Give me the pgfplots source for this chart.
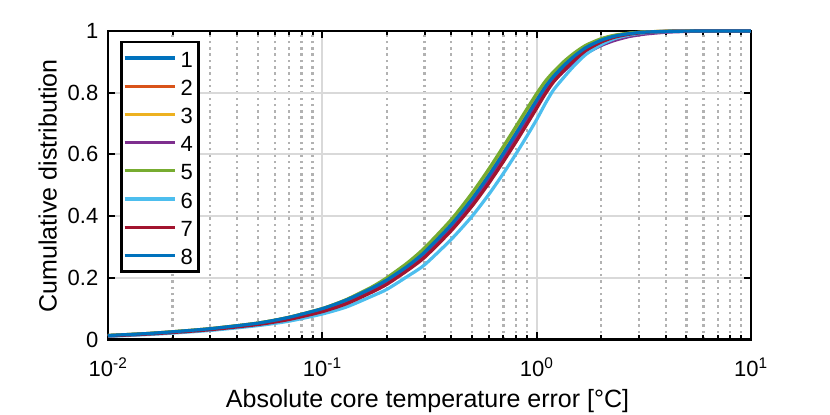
\documentclass[border=0pt]{standalone}
\usepackage{fontspec}
\setmainfont{Liberation Sans}
\usepackage{pgfplots}
\pgfplotsset{compat=1.18}
\definecolor{c1}{rgb}{0,0.447,0.741}
\definecolor{c2}{rgb}{0.850,0.325,0.098}
\definecolor{c3}{rgb}{0.929,0.694,0.125}
\definecolor{c4}{rgb}{0.494,0.184,0.556}
\definecolor{c5}{rgb}{0.466,0.674,0.188}
\definecolor{c6}{rgb}{0.301,0.745,0.933}
\definecolor{c7}{rgb}{0.635,0.078,0.184}
\begin{document}
\begin{tikzpicture}[font=\fontsize{22}{26}\selectfont]
\useasboundingbox (0,0) rectangle (830pt,415pt);
\begin{axis}[
  at={(108pt,75.5pt)}, anchor=south west,
  scale only axis, width=643pt, height=308.5pt,
  xmode=log, xmin=0.01, xmax=10, ymin=0, ymax=1,
  clip=false,
  xtick={0.01,0.1,1,10},
  xticklabels={10\textsuperscript{-2},10\textsuperscript{-1},10\textsuperscript{0},10\textsuperscript{1}},
  ytick={0,0.2,0.4,0.6,0.8,1},
  yticklabels={0,0.2,0.4,0.6,0.8,1},
  ticklabel style={font=\fontsize{22}{26}\selectfont},
  xticklabel style={anchor=base, yshift=-37pt, inner sep=0pt},
  yticklabel style={anchor=east, xshift=-9.5pt, inner sep=0pt},
  tick align=inside,
  major tick length=7pt, minor tick length=4pt,
  tick style={line width=2pt, black},
  axis line style={line width=2.8pt, black},
  xmajorgrids, ymajorgrids, xminorgrids,
  major grid style={line width=2.2pt, black!15},
  minor grid style={line width=2.2pt, black!30, dash pattern=on 2.5pt off 3.8pt},
  xlabel={Absolute core temperature error [°C]},
  ylabel={Cumulative distribution},
  label style={font=\fontsize{25}{30}\selectfont},
  xlabel style={at={(axis description cs:0.497,-0.222)}, anchor=base, inner sep=0pt},
  ylabel style={at={(axis description cs:-0.0798,0.498)}, anchor=base, inner sep=0pt},
  every axis plot/.append style={line width=3.2pt, smooth, tension=0.4},
  legend image code/.code={\draw[#1] (0pt,0pt) -- (50pt,0pt);},
  legend style={at={(0.0187,0.9686)}, anchor=north west, draw=black, line width=2.8pt,
    fill=white, inner xsep=1.5pt, inner ysep=2pt, row sep=0.2pt,
    font=\fontsize{22}{26}\selectfont,
    nodes={inner xsep=4.5pt, inner ysep=3pt, text height=20pt, text depth=2pt}},
  legend cell align=left,
]
\addplot[c1] coordinates {(0.01,0.0121)(0.015,0.0179)(0.02,0.0236)(0.03,0.0331)(0.05,0.0503)(0.07,0.0678)(0.1,0.0942)(0.13,0.1218)(0.17,0.1599)(0.2,0.1873)(0.25,0.2341)(0.3,0.2785)(0.4,0.3674)(0.5,0.4496)(0.6,0.5262)(0.7,0.5966)(0.8,0.660)(0.9,0.7173)(1,0.7686)(1.1,0.8137)(1.2,0.8483)(1.35,0.886)(1.5,0.9152)(1.7,0.944)(2,0.9685)(2.3,0.9822)(2.7,0.9909)(3.2,0.9961)(4,0.9986)(5,0.9996)(7,1)(10,1)};
\addplot[c2] coordinates {(0.01,0.0127)(0.015,0.0186)(0.02,0.0245)(0.03,0.0344)(0.05,0.0521)(0.07,0.0706)(0.1,0.0981)(0.13,0.1273)(0.17,0.1666)(0.2,0.1958)(0.25,0.244)(0.3,0.2908)(0.4,0.3818)(0.5,0.4665)(0.6,0.5447)(0.7,0.6162)(0.8,0.680)(0.9,0.7371)(1,0.7875)(1.1,0.8299)(1.2,0.8614)(1.35,0.8973)(1.5,0.9244)(1.7,0.9507)(2,0.9728)(2.3,0.9847)(2.7,0.9923)(3.2,0.9967)(4,0.9989)(5,0.9997)(7,1)(10,1)};
\addplot[c3] coordinates {(0.01,0.013)(0.015,0.019)(0.02,0.025)(0.03,0.035)(0.05,0.053)(0.07,0.072)(0.1,0.100)(0.13,0.1291)(0.17,0.1678)(0.2,0.1962)(0.25,0.2429)(0.3,0.2895)(0.4,0.3802)(0.5,0.4647)(0.6,0.5427)(0.7,0.614)(0.8,0.6778)(0.9,0.7349)(1,0.7854)(1.1,0.8281)(1.2,0.860)(1.35,0.8961)(1.5,0.9234)(1.7,0.9499)(2,0.9724)(2.3,0.9845)(2.7,0.9922)(3.2,0.9966)(4,0.9988)(5,0.9997)(7,1)(10,1)};
\addplot[c4] coordinates {(0.01,0.0119)(0.015,0.0177)(0.02,0.0233)(0.03,0.0327)(0.05,0.0497)(0.07,0.0669)(0.1,0.0929)(0.13,0.120)(0.17,0.1577)(0.2,0.1845)(0.25,0.2308)(0.3,0.2744)(0.4,0.3626)(0.5,0.444)(0.6,0.520)(0.7,0.590)(0.8,0.6534)(0.9,0.7107)(1,0.7623)(1.1,0.805)(1.2,0.838)(1.35,0.872)(1.5,0.899)(1.7,0.928)(2,0.953)(2.3,0.969)(2.7,0.982)(3.2,0.990)(4,0.996)(5,0.9985)(7,0.9997)(10,1)};
\addplot[c5] coordinates {(0.01,0.013)(0.015,0.019)(0.02,0.025)(0.03,0.035)(0.05,0.053)(0.07,0.072)(0.1,0.100)(0.13,0.130)(0.17,0.170)(0.2,0.200)(0.25,0.249)(0.3,0.297)(0.4,0.389)(0.5,0.475)(0.6,0.554)(0.7,0.626)(0.8,0.690)(0.9,0.747)(1,0.797)(1.1,0.838)(1.2,0.868)(1.35,0.903)(1.5,0.929)(1.7,0.954)(2,0.975)(2.3,0.986)(2.7,0.993)(3.2,0.997)(4,0.999)(5,0.9997)(7,1)(10,1)};
\addplot[c6] coordinates {(0.01,0.0103)(0.015,0.0158)(0.02,0.0208)(0.03,0.0294)(0.05,0.045)(0.07,0.0595)(0.1,0.0827)(0.13,0.1057)(0.17,0.1401)(0.2,0.1624)(0.25,0.2049)(0.3,0.2421)(0.4,0.325)(0.5,0.3998)(0.6,0.4716)(0.7,0.5388)(0.8,0.6012)(0.9,0.659)(1,0.713)(1.1,0.766)(1.2,0.8096)(1.35,0.8526)(1.5,0.8882)(1.7,0.9244)(2,0.9558)(2.3,0.9748)(2.7,0.9868)(3.2,0.9942)(4,0.9979)(5,0.9994)(7,1)(10,1)};
\addplot[c7] coordinates {(0.01,0.0115)(0.015,0.0172)(0.02,0.0226)(0.03,0.0318)(0.05,0.0485)(0.07,0.065)(0.1,0.0903)(0.13,0.1163)(0.17,0.1532)(0.2,0.1788)(0.25,0.2242)(0.3,0.2661)(0.4,0.353)(0.5,0.4327)(0.6,0.5076)(0.7,0.577)(0.8,0.640)(0.9,0.6975)(1,0.7497)(1.1,0.7975)(1.2,0.8351)(1.35,0.8746)(1.5,0.906)(1.7,0.9373)(2,0.9642)(2.3,0.9797)(2.7,0.9895)(3.2,0.9954)(4,0.9984)(5,0.9995)(7,1)(10,1)};
\addplot[c1] coordinates {(0.01,0.013)(0.015,0.019)(0.02,0.025)(0.03,0.035)(0.05,0.053)(0.07,0.072)(0.1,0.100)(0.13,0.1285)(0.17,0.1663)(0.2,0.1929)(0.25,0.238)(0.3,0.2833)(0.4,0.373)(0.5,0.4562)(0.6,0.5334)(0.7,0.6042)(0.8,0.6678)(0.9,0.725)(1,0.776)(1.1,0.820)(1.2,0.8534)(1.35,0.8904)(1.5,0.9188)(1.7,0.9466)(2,0.9702)(2.3,0.9832)(2.7,0.9915)(3.2,0.9963)(4,0.9987)(5,0.9996)(7,1)(10,1)};
\legend{1,2,3,4,5,6,7,8}
\end{axis}
\end{tikzpicture}
\end{document}
